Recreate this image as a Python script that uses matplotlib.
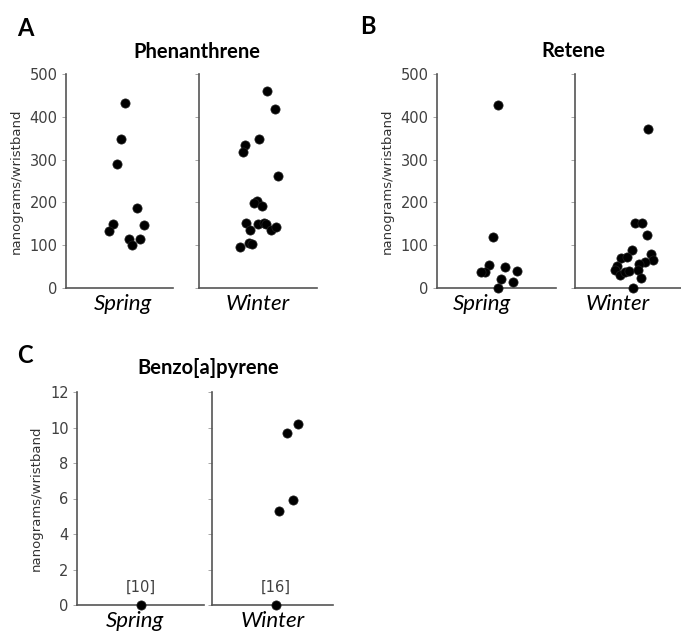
import numpy as np
import matplotlib.pyplot as plt

# values (nanograms/wristband)
phen_spring = [433, 348, 289, 186, 150, 133, 147, 114, 100, 114]
phen_winter = [461, 419, 349, 333, 318, 261, 204, 198, 192, 152, 135, 150,
               152, 150, 135, 143, 106, 102, 96]
ret_spring = [428, 120, 53, 38, 37, 48, 40, 20, 15, 0]
ret_winter = [371, 153, 153, 125, 89, 70, 72, 80, 65, 61, 56, 52, 42, 31,
              37, 40, 42, 24, 0]
bap_spring = [0]
bap_winter = [5.3, 5.9, 9.7, 10.2, 0]
bap_nd = ["[10]", "[16]"]

# horizontal scatter of the dots inside each group (fraction of group width)
phen_spring_jit = [0.05, 0.01, -0.02, 0.16, -0.06, -0.10, 0.23, 0.09, 0.12, 0.19]
phen_winter_jit = [0.08, 0.14, 0.01, -0.11, -0.13, 0.17, -0.01, -0.03, 0.03, -0.10,
                   -0.07, 0.00, 0.05, 0.07, 0.11, 0.15, -0.08, -0.05, -0.15]
ret_spring_jit = [0.01, -0.03, -0.06, -0.10, -0.13, 0.07, 0.17, 0.04, 0.14, 0.01]
ret_winter_jit = [0.12, 0.01, 0.07, 0.11, -0.02, -0.11, -0.06, 0.14, 0.16, 0.09, 0.04,
                  -0.14, -0.16, -0.12, -0.08, -0.04, 0.03, 0.06, -0.01]
bap_spring_jit = [0.0]
bap_winter_jit = [0.05, 0.17, 0.12, 0.21, 0.03]

W, H = 681, 633
fig = plt.figure(figsize=(W / 100, H / 100), dpi=100)

TITLE_FONT = "Lato"
TICK_COLOR = "#404040"
SPINE_COLOR = "#555555"


def px_axes(left, top, right, bottom):
    return fig.add_axes([left / W, 1 - bottom / H, (right - left) / W, (bottom - top) / H])


def group(ax, vals, jit, ymax, yticks, label, label_x, show_labels):
    ax.scatter(np.array(jit), vals, s=44, color="black", edgecolor="#222222",
               linewidth=0.5, zorder=3, clip_on=False)
    ax.set_xlim(-0.5, 0.5)
    ax.set_ylim(0, ymax)
    ax.set_yticks(yticks)
    ax.set_xticks([])
    for s in ["top", "right"]:
        ax.spines[s].set_visible(False)
    for s in ["left", "bottom"]:
        ax.spines[s].set_color(SPINE_COLOR)
        ax.spines[s].set_linewidth(1.2)
    ax.tick_params(axis="y", length=3, width=0.6, color="#999999",
                   labelsize=10.5, labelcolor=TICK_COLOR, pad=3)
    if not show_labels:
        ax.set_yticklabels([])
    ax.text(label_x, -0.03, label, transform=ax.transAxes, ha="center", va="top",
            fontsize=16, style="italic", family=TITLE_FONT, color="black")


# Panel A
a1 = px_axes(66, 74, 173, 288)
a2 = px_axes(199, 74, 317, 288)
group(a1, phen_spring, phen_spring_jit, 500, [0, 100, 200, 300, 400, 500], "Spring", 0.53, True)
group(a2, phen_winter, phen_winter_jit, 500, [0, 100, 200, 300, 400, 500], "Winter", 0.5, False)
a1.set_ylabel("nanograms/wristband", fontsize=9.5, color="#333333", labelpad=5)

# Panel B
b1 = px_axes(437, 74, 556, 288)
b2 = px_axes(575, 74, 693, 288)
group(b1, ret_spring, ret_spring_jit, 500, [0, 100, 200, 300, 400, 500], "Spring", 0.38, True)
group(b2, ret_winter, ret_winter_jit, 500, [0, 100, 200, 300, 400, 500], "Winter", 0.36, False)
b1.set_ylabel("nanograms/wristband", fontsize=9.5, color="#333333", labelpad=5)

# Panel C
c1 = px_axes(77, 392, 204, 605)
c2 = px_axes(212, 392, 333, 605)
group(c1, bap_spring, bap_spring_jit, 12, [0, 2, 4, 6, 8, 10, 12], "Spring", 0.46, True)
group(c2, bap_winter, bap_winter_jit, 12, [0, 2, 4, 6, 8, 10, 12], "Winter", 0.5, False)
c1.set_ylabel("nanograms/wristband", fontsize=9.5, color="#333333", labelpad=5)
c1.annotate(bap_nd[0], (bap_spring_jit[0], bap_spring[0]), xytext=(0, 7),
            textcoords="offset points", ha="center", va="bottom", fontsize=10.5, color=TICK_COLOR)
c2.annotate(bap_nd[1], (bap_winter_jit[-1], bap_winter[-1]), xytext=(0, 7),
            textcoords="offset points", ha="center", va="bottom", fontsize=10.5, color=TICK_COLOR)

# titles and panel letters
for txt, x, y in [("Phenanthrene", 197, 52), ("Retene", 573, 51), ("Benzo[a]pyrene", 208, 368)]:
    fig.text(x / W, 1 - y / H, txt, ha="center", va="center", fontsize=14.5,
             fontweight="bold", family=TITLE_FONT)
for txt, x, y in [("A", 25, 28), ("B", 368, 27), ("C", 25, 355)]:
    fig.text(x / W, 1 - y / H, txt, ha="center", va="center", fontsize=17,
             fontweight="bold", family=TITLE_FONT)

fig.savefig("out.png", dpi=100)
